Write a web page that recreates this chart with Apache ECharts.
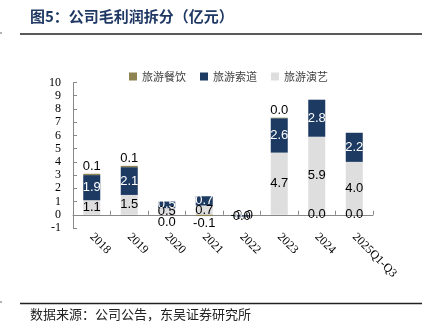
<!DOCTYPE html>
<html>
<head>
<meta charset="utf-8">
<style>
  html, body { margin: 0; padding: 0; background: #fff; }
  #chart { width: 430px; height: 336px; }
</style>
<script src="https://cdn.jsdelivr.net/npm/echarts@6/dist/echarts.min.js"></script>
</head>
<body>
<div id="chart"></div>
<script>
// Gross profit breakdown by business line (亿元)
const categories = ['2018', '2019', '2020', '2021', '2022', '2023', '2024', '2025Q1-Q3'];
const performing = [1.1, 1.5, 0.5, 0.7, -0.04, 4.7, 5.9, 4.0];   // 旅游演艺
const cableway   = [1.9, 2.1, 0.5, 0.7, -0.1, 2.6, 2.8, 2.2];    // 旅游索道
const catering   = [0.1, 0.1, -0.001, -0.1, -0.001, 0.04, -0.001, -0.001]; // 旅游餐饮
const cateringLabelPos = ['top', 'top', 'bottom', 'bottom', 'inside', 'top', 'inside', 'inside'];

const yTicks = { min: -1, max: 10, interval: 1 };

const fmt = p => p.value.toFixed(1);
// rounds to one decimal and drops the sign of a rounded zero
const fmtRounded = p => ((Math.round(p.value * 10) / 10) || 0).toFixed(1);
const serif = '"Liberation Serif", "Times New Roman", serif';
const sans = '"Liberation Sans", Arial, sans-serif';
const cjk = '"Noto Sans CJK SC", sans-serif';

const chart = echarts.init(document.getElementById('chart'), null, { renderer: 'canvas' });

chart.setOption({
  animation: false,
  backgroundColor: '#ffffff',
  grid: { left: 73, right: 57, top: 82.5, bottom: 108, containLabel: false },
  legend: {
    top: 66,
    left: 124,
    itemWidth: 8,
    itemHeight: 8,
    itemGap: 14,
    icon: 'rect',
    data: ['旅游餐饮', '旅游索道', '旅游演艺'],
    textStyle: { fontFamily: cjk, fontSize: 11, color: '#404040' }
  },
  graphic: [
    { type: 'text', left: 30, top: 9,
      style: { text: '图5：公司毛利润拆分（亿元）', font: 'bold 15px ' + cjk, fill: '#1f3864' } },
    { type: 'line', shape: { x1: 20, y1: 34, x2: 422, y2: 34 },
      style: { stroke: '#222', lineWidth: 1.5 } },
    { type: 'line', shape: { x1: 0, y1: 33, x2: 2, y2: 33 },
      style: { stroke: '#666', lineWidth: 1 } },
    { type: 'line', shape: { x1: 20, y1: 303.5, x2: 422, y2: 303.5 },
      style: { stroke: '#222', lineWidth: 1.5 } },
    { type: 'line', shape: { x1: 0, y1: 302, x2: 2, y2: 302 },
      style: { stroke: '#666', lineWidth: 1 } },
    { type: 'text', left: 30, top: 308,
      style: { text: '数据来源：公司公告，东吴证券研究所', font: '13px ' + cjk, fill: '#222' } }
  ],
  xAxis: {
    type: 'category',
    data: categories,
    axisLine: { onZero: true, lineStyle: { color: '#888', width: 1 } },
    axisTick: { show: true, inside: true, length: 4, alignWithLabel: false, lineStyle: { color: '#888' } },
    axisLabel: {
      rotate: -45, interval: 0, margin: 7,
      fontFamily: serif, fontSize: 12, color: '#000'
    }
  },
  yAxis: {
    type: 'value',
    min: yTicks.min, max: yTicks.max, interval: yTicks.interval,
    axisLine: { show: true, lineStyle: { color: '#888' } },
    axisTick: { show: true, inside: true, length: 4, lineStyle: { color: '#888' } },
    splitLine: { show: false },
    axisLabel: { fontFamily: serif, fontSize: 12, color: '#000', margin: 12 }
  },
  series: [
    {
      name: '旅游演艺', type: 'bar', stack: 'gp', barWidth: 17,
      data: performing,
      itemStyle: { color: '#dedede' },
      label: { show: true, position: 'inside', formatter: fmt,
               fontFamily: sans, fontSize: 13, color: '#000' }
    },
    {
      name: '旅游索道', type: 'bar', stack: 'gp', barWidth: 17,
      data: cableway,
      itemStyle: { color: '#1c3a62' },
      label: { show: true, position: 'inside', formatter: fmt,
               fontFamily: sans, fontSize: 13, color: '#fff' }
    },
    {
      name: '旅游餐饮', type: 'bar', stack: 'gp', barWidth: 17,
      data: catering.map((v, i) => ({ value: v, label: { position: cateringLabelPos[i] } })),
      itemStyle: { color: '#8d8452' },
      label: { show: true, formatter: fmtRounded, distance: 1,
               fontFamily: sans, fontSize: 13, color: '#000' }
    }
  ]
});
</script>
</body>
</html>
